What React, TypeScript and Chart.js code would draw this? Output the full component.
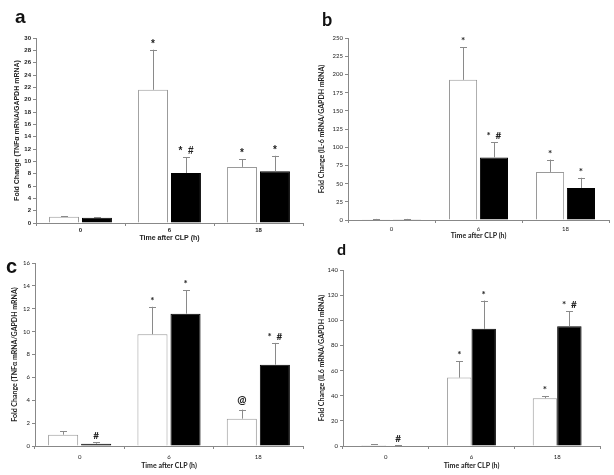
import React, { useEffect, useRef } from "react";
import { Chart, registerables } from "chart.js";
Chart.register(...registerables);

const categories = ["0", "6", "18"];
const xTitle = "Time after CLP (h)";

// Panel a: TNFα
const aWhite = [1.0, 21.6, 9.1];
const aWhiteErr = [0.12, 6.5, 1.2];
const aBlack = [0.85, 8.1, 8.4];
const aBlackErr = [0.08, 2.6, 2.5];
const aWhiteMarks = ["", "*", "*"];
const aBlackMarks = ["", "* #", "*"];
const aTicks = { max: 30, step: 2 };

// Panel b: IL-6
const bWhite = [1, 192.5, 66];
const bWhiteErr = [0.5, 45, 17];
const bBlack = [1, 86, 44];
const bBlackErr = [0.5, 21, 14];
const bWhiteMarks = ["", "*", "*"];
const bBlackMarks = ["", "* #", "*"];
const bTicks = { max: 250, step: 25 };

// Panel c: TNFα
const cWhite = [0.99, 9.77, 2.39];
const cWhiteErr = [0.32, 2.4, 0.79];
const cBlack = [0.2, 11.57, 7.11];
const cBlackErr = [0.12, 2.05, 1.9];
const cWhiteMarks = ["", "*", "@"];
const cBlackMarks = ["#", "*", "* #"];
const cTicks = { max: 16, step: 2 };

// Panel d: IL6
const dWhite = [0.8, 54.4, 38.0];
const dWhiteErr = [0.4, 13, 1.6];
const dBlack = [0.3, 93.2, 95.3];
const dBlackErr = [0.2, 22.5, 11.9];
const dWhiteMarks = ["", "*", "*"];
const dBlackMarks = ["#", "*", "* #"];
const dTicks = { max: 140, step: 20 };

type PanelCfg = {
  left: number; top: number; w: number; h: number;
  yW: number; padTop: number; padRight: number; xH: number;
  xTickPad: number; xTitlePad: number; yTitlePad: number;
  cp: number; bp: number;
  family: string; bold: boolean; tickSize: number; titleSize: number;
  yTitle: string;
  white: number[]; whiteErr: number[]; whiteMarks: string[];
  black: number[]; blackErr: number[]; blackMarks: string[];
  max: number; step: number;
};

function Panel(p: PanelCfg) {
  const ref = useRef<HTMLCanvasElement>(null);
  useEffect(() => {
    const errs = [p.whiteErr, p.blackErr];
    const marks = [p.whiteMarks, p.blackMarks];
    const errPlugin = {
      id: "errBars",
      afterDatasetsDraw(chart: any) {
        const ctx = chart.ctx;
        const ys = chart.scales.y;
        ctx.save();
        chart.data.datasets.forEach((ds: any, i: number) => {
          const meta = chart.getDatasetMeta(i);
          meta.data.forEach((el: any, j: number) => {
            const v = ds.data[j] as number;
            const top = ys.getPixelForValue(v + errs[i][j]);
            const base = ys.getPixelForValue(v);
            ctx.strokeStyle = "#8a8a8a";
            ctx.lineWidth = 1;
            ctx.beginPath();
            ctx.moveTo(Math.round(el.x) + 0.5, base);
            ctx.lineTo(Math.round(el.x) + 0.5, top);
            ctx.moveTo(Math.round(el.x) - 3, Math.round(top) + 0.5);
            ctx.lineTo(Math.round(el.x) + 4, Math.round(top) + 0.5);
            ctx.stroke();
            const m = marks[i][j];
            if (m) {
              ctx.fillStyle = "#222";
              ctx.font = `bold ${m === "@" ? 11 : 10}px ${p.family}`;
              ctx.textAlign = "center";
              ctx.textBaseline = "alphabetic";
              ctx.fillText(m.replace(" ", "  "), el.x, top - (m === "@" ? 6 : 3));
            }
          });
        });
        ctx.restore();
      },
    };
    const tickFont = { family: p.family, size: p.tickSize, weight: p.bold ? "bold" : "normal" } as any;
    const titleFont = { family: p.family, size: p.titleSize, weight: "bold" } as any;
    const chart = new Chart(ref.current!, {
      type: "bar",
      data: {
        labels: categories,
        datasets: [
          { data: p.white, backgroundColor: "#ffffff", borderColor: "#9a9a9a", borderWidth: 1 },
          { data: p.black, backgroundColor: "#000000", borderColor: "#000000", borderWidth: 1 },
        ],
      },
      options: {
        responsive: false,
        animation: false,
        devicePixelRatio: 1,
        layout: { padding: { left: 0, right: p.padRight, top: p.padTop, bottom: 0 } },
        plugins: { legend: { display: false }, tooltip: { enabled: false } },
        datasets: { bar: { categoryPercentage: p.cp, barPercentage: p.bp } },
        scales: {
          x: {
            grid: { display: true, drawOnChartArea: false, offset: true, tickLength: 3, color: "#888" },
            border: { color: "#888" },
            ticks: { font: tickFont, color: "#222", padding: p.xTickPad },
            title: { display: true, text: xTitle, font: titleFont, color: "#222", padding: { top: 0, bottom: p.xTitlePad } },
            afterFit: (s: any) => { s.height = p.xH; },
          },
          y: {
            min: 0, max: p.max,
            grid: { display: true, drawOnChartArea: false, tickLength: 3, color: "#888" },
            border: { color: "#888" },
            ticks: { stepSize: p.step, font: tickFont, color: "#222", padding: 2 },
            title: { display: true, text: p.yTitle, font: titleFont, color: "#222", padding: { top: p.yTitlePad, bottom: 0 } },
            afterFit: (s: any) => { s.width = p.yW; },
          },
        },
      } as any,
      plugins: [errPlugin],
    });
    return () => chart.destroy();
  }, []);
  return (
    <canvas
      ref={ref}
      width={p.w}
      height={p.h}
      style={{ position: "absolute", left: p.left, top: p.top, width: p.w, height: p.h }}
    />
  );
}

const letterStyle = (left: number, top: number, size: number, family: string): React.CSSProperties => ({
  position: "absolute", left, top, fontSize: size, lineHeight: `${size}px`,
  fontWeight: "bold", fontFamily: family, color: "#111",
});

export default function App() {
  const arial = "'Liberation Sans', Arial, sans-serif";
  const cal = "Lato, 'Liberation Sans', sans-serif";
  return (
    <div style={{ position: "absolute", left: 0, top: 0, width: 614, height: 475, background: "#fff", overflow: "hidden" }}>
      <Panel left={0} top={0} w={307} h={245} yW={36} padTop={38} padRight={4} xH={22}
        xTickPad={1} xTitlePad={3} yTitlePad={13} cp={0.74} bp={0.91}
        family={arial} bold={true} tickSize={6} titleSize={7}
        yTitle="Fold Change (TNFα mRNA/GAPDH mRNA)"
        white={aWhite} whiteErr={aWhiteErr} whiteMarks={aWhiteMarks}
        black={aBlack} blackErr={aBlackErr} blackMarks={aBlackMarks}
        max={aTicks.max} step={aTicks.step} />
      <Panel left={307} top={0} w={307} h={245} yW={41} padTop={38} padRight={5} xH={25}
        xTickPad={2} xTitlePad={5} yTitlePad={11} cp={0.71} bp={0.91}
        family={cal} bold={false} tickSize={6} titleSize={7}
        yTitle="Fold Change (IL-6 mRNA/GAPDH mRNA)"
        white={bWhite} whiteErr={bWhiteErr} whiteMarks={bWhiteMarks}
        black={bBlack} blackErr={bBlackErr} blackMarks={bBlackMarks}
        max={bTicks.max} step={bTicks.step} />
      <Panel left={0} top={240} w={307} h={235} yW={35} padTop={23} padRight={4} xH={29}
        xTickPad={4} xTitlePad={5} yTitlePad={11} cp={0.74} bp={0.91}
        family={cal} bold={false} tickSize={6} titleSize={7}
        yTitle="Fold Change (TNFα mRNA/GAPDH mRNA)"
        white={cWhite} whiteErr={cWhiteErr} whiteMarks={cWhiteMarks}
        black={cBlack} blackErr={cBlackErr} blackMarks={cBlackMarks}
        max={cTicks.max} step={cTicks.step} />
      <Panel left={307} top={240} w={307} h={235} yW={36} padTop={30} padRight={14} xH={29}
        xTickPad={4} xTitlePad={5} yTitlePad={11} cp={0.57} bp={1.0}
        family={cal} bold={false} tickSize={6} titleSize={7}
        yTitle="Fold Change (IL6 mRNA/GAPDH mRNA)"
        white={dWhite} whiteErr={dWhiteErr} whiteMarks={dWhiteMarks}
        black={dBlack} blackErr={dBlackErr} blackMarks={dBlackMarks}
        max={dTicks.max} step={dTicks.step} />
      <div style={letterStyle(15, 7, 19, arial)}>a</div>
      <div style={letterStyle(322, 10, 18, cal)}>b</div>
      <div style={letterStyle(6, 256, 20, arial)}>c</div>
      <div style={letterStyle(337, 241, 16, cal)}>d</div>
    </div>
  );
}
